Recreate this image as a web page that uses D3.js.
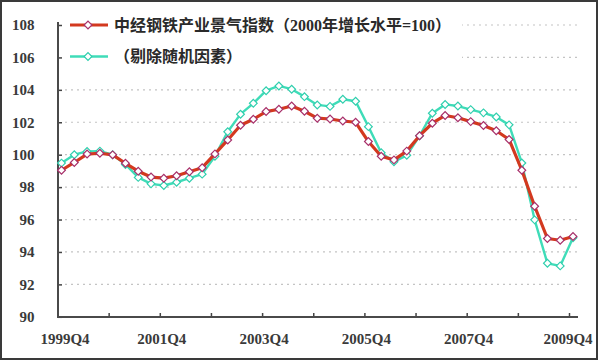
<!DOCTYPE html>
<html><head><meta charset="utf-8">
<script src="https://cdn.jsdelivr.net/npm/d3@7"></script>
<style>html,body{margin:0;padding:0;background:#fff;} svg{display:block}</style>
</head><body><svg id="c" width="600" height="361"></svg>
<script>
// ---- data ----
const quarters = [
  "1999Q4",
  "2000Q1","2000Q2","2000Q3","2000Q4",
  "2001Q1","2001Q2","2001Q3","2001Q4",
  "2002Q1","2002Q2","2002Q3","2002Q4",
  "2003Q1","2003Q2","2003Q3","2003Q4",
  "2004Q1","2004Q2","2004Q3","2004Q4",
  "2005Q1","2005Q2","2005Q3","2005Q4",
  "2006Q1","2006Q2","2006Q3","2006Q4",
  "2007Q1","2007Q2","2007Q3","2007Q4",
  "2008Q1","2008Q2","2008Q3","2008Q4",
  "2009Q1","2009Q2","2009Q3","2009Q4"
];
const steelIndex = [
  99.04, 99.52,100.04,100.09, 99.99, 99.47, 98.98, 98.62, 98.55, 98.70,
  98.95, 99.20,100.05,100.91,101.82,102.19,102.66,102.80,103.00,102.68,
  102.25,102.20,102.08,102.00,100.81, 99.90, 99.68,100.22,101.17,101.94,
  102.42,102.28,102.04,101.80,101.48,100.94, 99.04, 96.82, 94.83, 94.72,
  94.95
];
const steelIndexAdjusted = [
  99.48,100.00,100.20,100.22,100.00, 99.40, 98.60, 98.20, 98.10, 98.30,
  98.55, 98.80, 99.90,101.42,102.50,103.17,103.95,104.24,104.04,103.58,
  103.07,102.98,103.42,103.30,101.73,100.12, 99.57, 99.96,101.17,102.56,
  103.10,103.00,102.78,102.58,102.33,101.84, 99.49, 95.98, 93.30, 93.14,
  94.87
];
const seriesNames = ["中经钢铁产业景气指数（2000年增长水平=100）", "（剔除随机因素）"];
const xTickLabels = ["1999Q4","2001Q4","2003Q4","2005Q4","2007Q4","2009Q4"];
const xTickMarks = ["2000Q4","2001Q4","2002Q4","2003Q4","2004Q4","2005Q4","2006Q4","2007Q4","2008Q4","2009Q4"];
const yTicks = [90,92,94,96,98,100,102,104,106,108];

// ---- chart ----
const svg = d3.select("#c");
const x = d3.scalePoint().domain(quarters).range([61.5, 573]);
const y = d3.scaleLinear().domain([90,108]).range([316.8, 25]);
const tickShift = -4;

// frame
svg.append("rect").attr("x",1).attr("y",1).attr("width",596).attr("height",358)
  .attr("fill","#fff").attr("stroke","#3a3a3a").attr("stroke-width",2);

// gridlines
svg.append("g").selectAll("line").data(yTicks.filter(v=>v>90)).join("line")
  .attr("x1",65).attr("x2",580).attr("y1",d=>y(d)).attr("y2",d=>y(d))
  .attr("stroke","#c4c4c4").attr("stroke-width",1.2).attr("stroke-dasharray","2,4");

// legend background
svg.append("rect").attr("x",62).attr("y",9).attr("width",400).attr("height",62).attr("fill","#fff");

// y axis
const yAxis = d3.axisLeft(y).tickValues(yTicks).tickSize(-4).tickSizeOuter(0).tickPadding(23.5);
const gy = svg.append("g").attr("transform","translate(58,0)").call(yAxis);
gy.select(".domain").remove();
gy.selectAll(".tick line").attr("stroke","#444").attr("stroke-width",1.5);
gy.selectAll(".tick text").attr("font-family","'Liberation Serif', serif").attr("font-weight","bold")
  .attr("font-size",15).attr("fill","#3a3a3a");
svg.append("line").attr("x1",58).attr("x2",58).attr("y1",22).attr("y2",317.5)
  .attr("stroke","#4a4a4a").attr("stroke-width",2);

// x axis
const xTickScale = d3.scalePoint().domain(quarters).range([61.5+tickShift, 573+tickShift]);
const xAxis = d3.axisBottom(xTickScale).tickValues(xTickMarks).tickSize(-4).tickSizeOuter(0).tickFormat("");
const gx = svg.append("g").attr("transform","translate(0,317)").call(xAxis);
gx.select(".domain").remove();
gx.selectAll(".tick line").attr("stroke","#444").attr("stroke-width",1.5);
svg.append("line").attr("x1",57).attr("x2",578).attr("y1",317).attr("y2",317)
  .attr("stroke","#4a4a4a").attr("stroke-width",2);
svg.append("g").selectAll("text").data(xTickLabels).join("text")
  .attr("x",d=>Math.max(65, Math.min(568, x(d)-2)))
  .attr("y",339).attr("dy","0.35em").attr("text-anchor","middle")
  .attr("font-family","'Liberation Serif', serif").attr("font-weight","bold")
  .attr("font-size",15).attr("fill","#3a3a3a").text(d=>d);

// series
const styles = [
  {data: steelIndex, line:"#d3391f", width:3.2, marker:"#a8306a"},
  {data: steelIndexAdjusted, line:"#3fdcb8", width:2.4, marker:"#30cfae"}
];
const line = d3.line().x((d,i)=>x(quarters[i])).y(d=>y(d));
const diamond = d3.symbol(d3.symbolSquare, 30);
[styles[1], styles[0]].forEach(s=>{
  svg.append("path").datum(s.data).attr("d",line).attr("fill","none")
    .attr("stroke",s.line).attr("stroke-width",s.width).attr("stroke-linejoin","round");
  svg.append("g").selectAll("path").data(s.data).join("path")
    .attr("d",diamond)
    .attr("transform",(d,i)=>`translate(${x(quarters[i])},${y(d)}) rotate(45)`)
    .attr("fill","#fff").attr("stroke",s.marker).attr("stroke-width",1.2);
});

// legend
const legY = [25, 56.5];
styles.forEach((s,k)=>{
  const g = svg.append("g");
  g.append("line").attr("x1",70).attr("x2",108).attr("y1",legY[k]).attr("y2",legY[k])
    .attr("stroke",s.line).attr("stroke-width",s.width);
  g.append("path").attr("d",diamond).attr("transform",`translate(88,${legY[k]}) rotate(45)`)
    .attr("fill","#fff").attr("stroke",s.marker).attr("stroke-width",1.2);
  g.append("text").attr("x",114).attr("y",legY[k]).attr("dy","0.36em")
    .attr("font-family","'Liberation Serif','Noto Sans CJK SC',serif").attr("font-weight","bold")
    .attr("font-size",16).attr("fill","#2a2a2a").text(seriesNames[k]);
});
</script>
</body></html>
